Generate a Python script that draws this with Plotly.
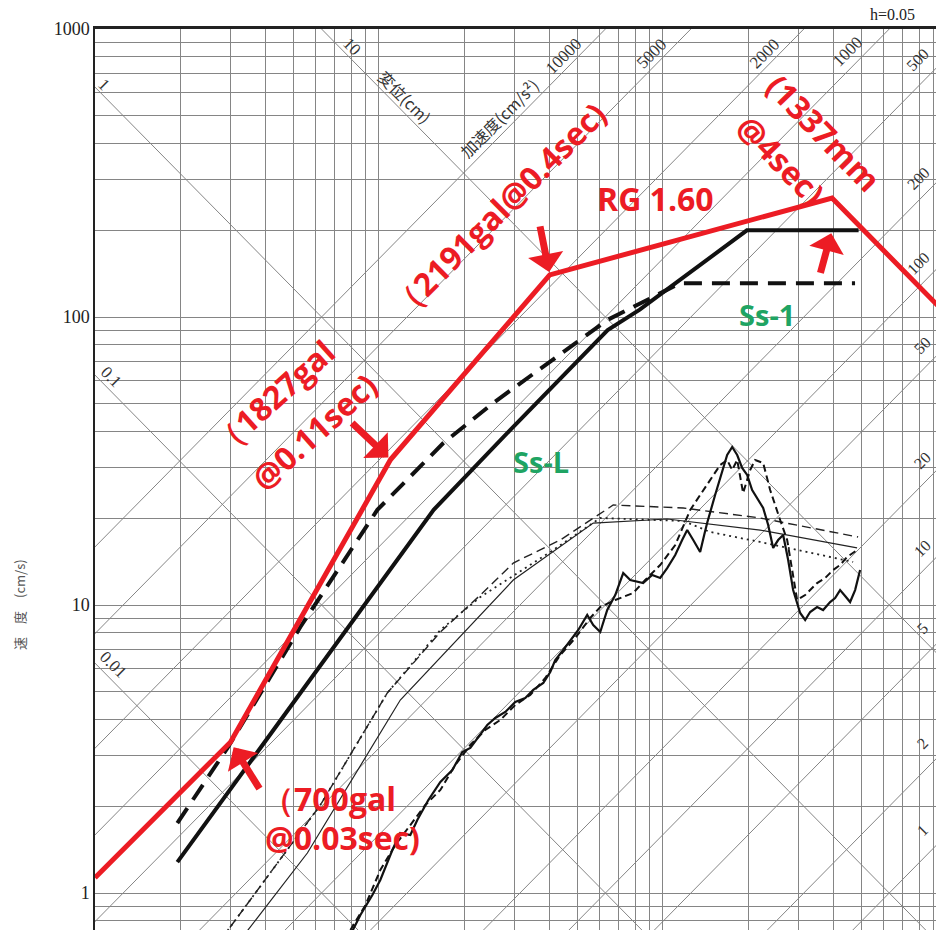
import numpy as np
import plotly.graph_objects as go

# ---------------- data (period T [s], pseudo velocity Sv [cm/s]) ----------------
rg_T = [0.01, 0.03, 0.11, 0.40, 3.95, 10.0]
rg_Sv = [1.13, 3.34, 32.0, 140.0, 259.0, 102.0]

ssl_T = [0.0195, 0.156, 0.29, 0.64, 0.83, 1.98, 4.9]
ssl_Sv = [1.28, 21.4, 40.5, 90.0, 106.0, 200.0, 200.0]

ss1_T = [0.0195, 0.0293, 0.0529, 0.0988, 0.1687, 0.253, 0.638, 1.152, 4.76]
ss1_Sv = [1.75, 3.19, 8.39, 21.4, 36.5, 50.3, 97.6, 131.0, 131.0]

thin_dot_T = [0.0261, 0.0622, 0.1071, 0.1647, 0.2278, 0.4115, 0.6025, 1.181, 1.470, 2.205, 4.687]
thin_dot_Sv = [0.634, 2.02, 4.95, 8.19, 10.66, 15.52, 20.05, 19.57, 17.93, 16.55, 14.11]

thin_solid_T = [0.0325, 0.0560, 0.1190, 0.2976, 0.5692, 1.037, 2.205, 4.840]
thin_solid_Sv = [0.687, 1.377, 4.679, 12.21, 19.26, 19.89, 18.21, 15.78]

thin_dash_T = [0.0261, 0.0622, 0.1071, 0.1647, 0.2278, 0.2976, 0.4356, 0.6694, 1.181, 2.205, 4.88]
thin_dash_Sv = [0.634, 2.02, 4.95, 8.06, 10.83, 13.99, 16.81, 22.24, 21.72, 20.05, 17.22]

obs_solid_T = [0.0762, 0.0861, 0.0949, 0.1012, 0.1116, 0.1190, 0.1291, 0.1366, 0.1494, 0.1647,
               0.1815, 0.1968, 0.2100, 0.2278, 0.2410, 0.2572, 0.2789, 0.3024, 0.3280, 0.3499,
               0.3796, 0.4017, 0.4183, 0.4462, 0.4724, 0.5041, 0.5421, 0.5692, 0.6025, 0.6377,
               0.6805, 0.7260, 0.7686, 0.8535, 0.9184, 0.9799, 1.037, 1.107, 1.171, 1.220,
               1.281, 1.355, 1.400, 1.434, 1.530, 1.620, 1.687, 1.757, 1.830, 1.905,
               1.984, 2.066, 2.169, 2.259, 2.353, 2.450, 2.551, 2.657, 2.767, 2.881,
               3.050, 3.176, 3.307, 3.499, 3.674, 3.889, 4.050, 4.217, 4.392, 4.573,
               4.763, 4.960]
obs_solid_Sv = [0.660, 0.839, 0.984, 1.110, 1.410, 1.615, 1.590, 1.793, 2.103, 2.429,
                2.674, 3.087, 3.188, 3.538, 3.831, 4.052, 4.251, 4.605, 4.755, 5.070,
                5.360, 5.852, 6.442, 6.980, 7.558, 8.190, 9.233, 8.523, 8.058, 9.607,
                10.83, 12.91, 12.21, 11.92, 12.71, 12.41, 13.44, 14.92, 16.81, 18.21,
                16.81, 15.28, 17.51, 19.26, 24.09, 29.43, 33.18, 35.38, 33.18, 29.91,
                28.28, 25.07, 23.14, 21.72, 18.95, 15.78, 16.81, 17.51, 14.33, 11.27,
                9.381, 8.870, 9.456, 9.842, 9.607, 10.24, 10.57, 11.27, 10.75, 10.24,
                11.27, 13.23]

obs_dash_T = [0.0794, 0.0897, 0.1012, 0.1143, 0.1291, 0.1458, 0.1647, 0.1859, 0.2100, 0.2371,
              0.2678, 0.3024, 0.3415, 0.3858, 0.4356, 0.4920, 0.5555, 0.6025, 0.6805, 0.7873,
              0.8676, 0.9799, 1.107, 1.250, 1.355, 1.470, 1.594, 1.687, 1.757, 1.830,
              1.920, 2.033, 2.117, 2.259, 2.391, 2.593, 2.745, 2.976, 3.176, 3.499,
              3.735, 3.985, 4.217, 4.463, 4.840]
obs_dash_Sv = [0.744, 0.908, 1.202, 1.468, 1.722, 2.021, 2.279, 2.783, 3.265, 3.681,
               3.987, 4.496, 4.870, 5.578, 6.706, 7.681, 9.015, 9.842, 10.41, 11.01,
               12.21, 13.77, 16.15, 21.38, 24.09, 27.16, 30.63, 31.88, 29.43, 31.88,
               24.48, 29.43, 31.88, 31.12, 25.07, 19.73, 16.81, 10.41, 10.83, 11.92,
               12.41, 13.23, 13.77, 14.68, 15.52]

# tripartite grid values
disp_lines_cm = [0.01, 0.1, 1, 10]
acc_lines_gal = [1, 2, 5, 10, 20, 50, 100, 200, 500, 1000, 2000, 5000, 10000]

RED = '#ec1c24'
GREEN = '#1fa463'
GRID = '#858585'

W, H = 936, 930
ML, MT = 95, 29            # plot-area left / top
x_range = [-2, np.log10(9.18)]
y_range = [np.log10(0.744), 3]

fig = go.Figure()

# diagonal grid
Tspan = np.array([0.004, 30.0])
gx, gy = [], []
for D in disp_lines_cm:
    gx += list(Tspan) + [None]
    gy += list(2 * np.pi * D / Tspan) + [None]
for A in acc_lines_gal:
    gx += list(Tspan) + [None]
    gy += list(A * Tspan / (2 * np.pi)) + [None]
fig.add_trace(go.Scatter(x=gx, y=gy, mode='lines', line=dict(color=GRID, width=1),
                         hoverinfo='skip', showlegend=False))


def add_line(T, Sv, color, width, dash='solid'):
    fig.add_trace(go.Scatter(x=T, y=Sv, mode='lines',
                             line=dict(color=color, width=width, dash=dash),
                             hoverinfo='skip', showlegend=False))


add_line(thin_solid_T, thin_solid_Sv, '#222', 1.2)
add_line(thin_dash_T, thin_dash_Sv, '#222', 1.4, '9px,5px')
add_line(thin_dot_T, thin_dot_Sv, '#222', 1.8, '2px,4px')
add_line(obs_dash_T, obs_dash_Sv, '#111', 2.0, '7px,4px')
add_line(obs_solid_T, obs_solid_Sv, '#111', 2.2)
add_line(ss1_T, ss1_Sv, '#111', 4, '18px,10px')
add_line(ssl_T, ssl_Sv, '#111', 4)
add_line(rg_T, rg_Sv, RED, 5)

# axes
minor_x = [m * 10.0 ** e for e in (-2, -1, 0) for m in range(2, 10)]
minor_y = [m * 10.0 ** e for e in (-1, 0, 1, 2) for m in range(2, 10)]
fig.update_xaxes(type='log', range=x_range, side='top', showticklabels=False, ticks='',
                 tickvals=[0.01, 0.1, 1, 10], showgrid=True, gridcolor=GRID, gridwidth=1,
                 minor=dict(tickvals=minor_x, showgrid=True, gridcolor=GRID, gridwidth=1, ticks=''),
                 showline=True, linecolor='#222', linewidth=2.5, zeroline=False)
fig.update_yaxes(type='log', range=y_range, tickvals=[1, 10, 100, 1000],
                 ticktext=['1', '10', '100', '1000'], ticks='',
                 tickfont=dict(family='Liberation Serif', size=18, color='#222'),
                 showgrid=True, gridcolor=GRID, gridwidth=1,
                 minor=dict(tickvals=minor_y, showgrid=True, gridcolor=GRID, gridwidth=1, ticks=''),
                 showline=True, linecolor='#222', linewidth=1.5, zeroline=False)


def paper(px, py):
    # pixel position in the page -> paper coordinates of the plot area
    return (px - ML) / (W - ML), (H - py) / (H - MT)


ann = []


def label(text, px, py, size, color='#333', angle=0, family='Liberation Serif', bold=False, xanchor='center'):
    x, y = paper(px, py)
    t = '<b>%s</b>' % text if bold else text
    ann.append(dict(text=t, x=x, y=y, xref='paper', yref='paper', showarrow=False,
                    textangle=angle, xanchor=xanchor, yanchor='middle',
                    font=dict(family=family, size=size, color=color)))


# diagonal scale labels
label('1', 104, 84, 17, angle=45)
label('0.1', 111, 376, 17, angle=45)
label('0.01', 113, 665, 17, angle=45)
label('10', 352, 46, 17, angle=45)
label('変位(cm)', 405, 97, 16, angle=45, family='Noto Sans CJK JP')
label('10000', 563, 56, 17, angle=-45)
label('加速度(cm/s²)', 499, 118, 16, angle=-45, family='Noto Sans CJK JP')
label('5000', 652, 54, 17, angle=-45)
label('2000', 765, 54, 17, angle=-45)
label('1000', 848, 52, 17, angle=-45)
label('500', 918, 60, 16, angle=-45)
for txt, yy in [('200', 178), ('100', 263), ('50', 345), ('20', 460), ('10', 548),
                ('5', 628), ('2', 743), ('1', 830)]:
    label(txt, 922 if len(txt) < 3 else 918, yy, 16, angle=-45)

label('h=0.05', 892, 14, 16, color='#222')
label('速　度　(cm/s)', 19, 605, 13, color='#555', angle=-90, family='Noto Sans CJK JP')

# red annotations
FS = 32
SANS = 'Open Sans'
label('（1827gal', 272, 397, FS, RED, -42, SANS, True)
label('@0.11sec)', 314, 432, FS, RED, -42, SANS, True)
label('（2191gal@0.4sec)', 497, 210, FS, RED, -45, SANS, True)
label('(1337mm', 824, 132, FS, RED, 46, SANS, True)
label('@4sec)', 781, 159, FS, RED, 46, SANS, True)
label('RG 1.60', 655, 199, FS, RED, 0, SANS, True)
label('（700gal', 260, 798, FS, RED, 0, SANS, True, 'left')
label('@0.03sec)', 263, 837, FS, RED, 0, SANS, True, 'left')
label('Ss-1', 767, 314, 29, GREEN, 0, SANS, True)
label('Ss-L', 541, 461, 29, GREEN, 0, SANS, True)


def arrow(T, Sv, ax, ay, standoff=3):
    ann.append(dict(x=np.log10(T), y=np.log10(Sv), xref='x', yref='y', text='',
                    showarrow=True, ax=ax, ay=ay, arrowhead=1, arrowsize=0.85,
                    arrowwidth=7, arrowcolor=RED, standoff=standoff))


arrow(rg_T[1], rg_Sv[1], 30, 48, 6)
arrow(rg_T[2], rg_Sv[2], -40, -38, 3)
arrow(rg_T[3], rg_Sv[3], -10, -50, 3)
arrow(rg_T[4], ssl_Sv[-1], -12, 44, 3)

fig.update_layout(width=W, height=H, margin=dict(l=ML, r=0, t=MT, b=0, pad=0),
                  plot_bgcolor='white', paper_bgcolor='white', annotations=ann,
                  showlegend=False)

# remove the default page margin so the 936x930 figure fills the window exactly
fig.write_html("out.html", config={'displayModeBar': False},
               post_script="document.body.style.margin='0';document.body.style.overflow='hidden';")
